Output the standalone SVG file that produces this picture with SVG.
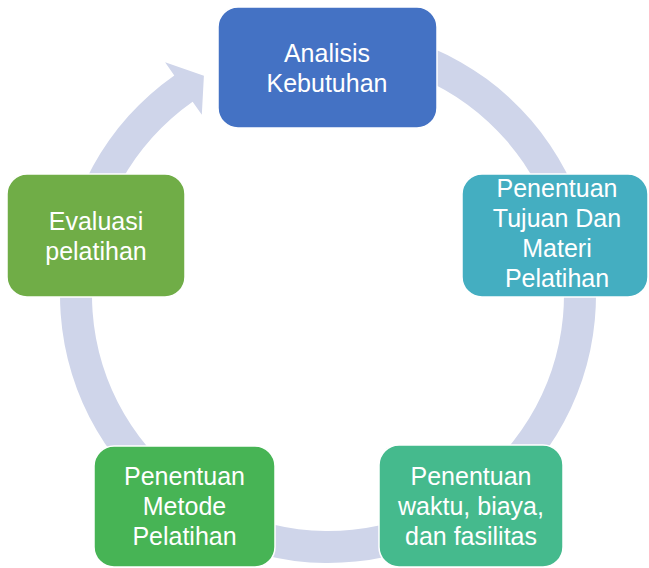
<svg xmlns="http://www.w3.org/2000/svg" width="649" height="568" viewBox="0 0 649 568">
  <style>
    .node rect { stroke: #ffffff; stroke-width: 1.5; }
    .node text { font-family: "Liberation Sans", Arial, sans-serif; font-size: 25px; fill: #ffffff; text-anchor: middle; }
    .ring { fill: #CFD5EA; }
  </style>
  <rect width="649" height="568" fill="#ffffff"/>

  <!-- continuous cycle arrow, running clockwise and ending at the first step -->
  <g id="connectors">
    <path class="ring" d="M 374.54 31.07 A 268 268 0 1 1 174.28 75.47 L 165.10 62.36 L 203.91 75.67 L 201.81 114.79 L 192.63 101.68 A 236 236 0 1 0 368.98 62.59 Z"/>
  </g>

  <g id="node-analisis" class="node">
    <rect x="218" y="7" width="219" height="121" rx="20" fill="#4472C4"/>
    <text x="327" y="62">Analisis</text>
    <text x="327" y="92">Kebutuhan</text>
  </g>

  <g id="node-tujuan" class="node">
    <rect x="462" y="174" width="186" height="123" rx="20" fill="#44AEC1"/>
    <text x="557" y="197">Penentuan</text>
    <text x="557" y="227">Tujuan Dan</text>
    <text x="557" y="257">Materi</text>
    <text x="557" y="287">Pelatihan</text>
  </g>

  <g id="node-waktu" class="node">
    <rect x="379" y="445" width="184" height="122" rx="20" fill="#45BA8D"/>
    <text x="471" y="485">Penentuan</text>
    <text x="471" y="515">waktu, biaya,</text>
    <text x="471" y="545">dan fasilitas</text>
  </g>

  <g id="node-metode" class="node">
    <rect x="94" y="446" width="181" height="121" rx="20" fill="#47B455"/>
    <text x="184.5" y="485">Penentuan</text>
    <text x="184.5" y="515">Metode</text>
    <text x="184.5" y="545">Pelatihan</text>
  </g>

  <g id="node-evaluasi" class="node">
    <rect x="7" y="174" width="178" height="123" rx="20" fill="#70AD47"/>
    <text x="96" y="230">Evaluasi</text>
    <text x="96" y="260">pelatihan</text>
  </g>
</svg>
